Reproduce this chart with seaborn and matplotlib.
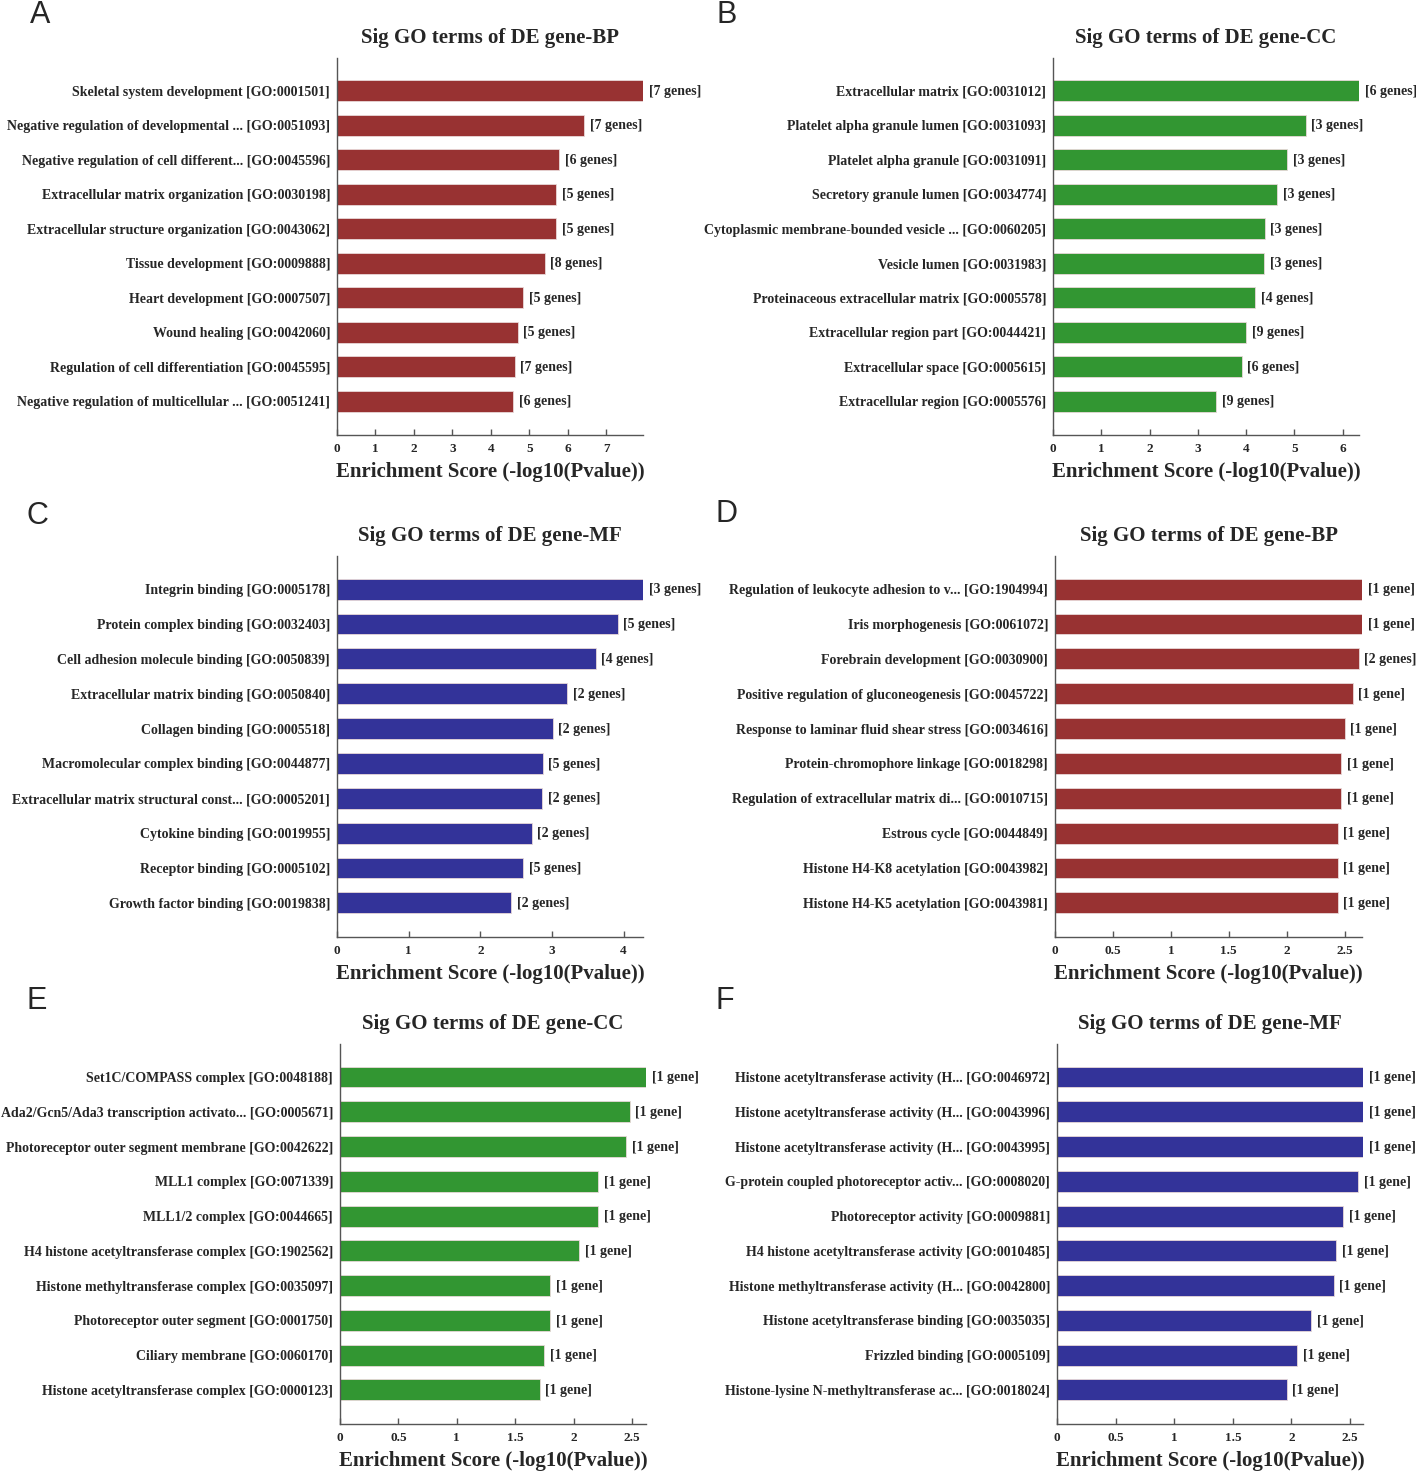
import matplotlib
matplotlib.use('Agg')
import matplotlib.pyplot as plt
import seaborn as sns

# ---- data ----
bp1_terms = ['Skeletal system development [GO:0001501]',
             'Negative regulation of developmental ... [GO:0051093]',
             'Negative regulation of cell different... [GO:0045596]',
             'Extracellular matrix organization [GO:0030198]',
             'Extracellular structure organization [GO:0043062]',
             'Tissue development [GO:0009888]',
             'Heart development [GO:0007507]',
             'Wound healing [GO:0042060]',
             'Regulation of cell differentiation [GO:0045595]',
             'Negative regulation of multicellular ... [GO:0051241]']
bp1_scores = [7.95, 6.43, 5.78, 5.69, 5.69, 5.40, 4.84, 4.70, 4.62, 4.58]
bp1_genes = [7, 7, 6, 5, 5, 8, 5, 5, 7, 6]

cc1_terms = ['Extracellular matrix [GO:0031012]',
             'Platelet alpha granule lumen [GO:0031093]',
             'Platelet alpha granule [GO:0031091]',
             'Secretory granule lumen [GO:0034774]',
             'Cytoplasmic membrane-bounded vesicle ... [GO:0060205]',
             'Vesicle lumen [GO:0031983]',
             'Proteinaceous extracellular matrix [GO:0005578]',
             'Extracellular region part [GO:0044421]',
             'Extracellular space [GO:0005615]',
             'Extracellular region [GO:0005576]']
cc1_scores = [6.34, 5.24, 4.85, 4.65, 4.39, 4.38, 4.19, 4.00, 3.91, 3.38]
cc1_genes = [6, 3, 3, 3, 3, 3, 4, 9, 6, 9]

mf1_terms = ['Integrin binding [GO:0005178]',
             'Protein complex binding [GO:0032403]',
             'Cell adhesion molecule binding [GO:0050839]',
             'Extracellular matrix binding [GO:0050840]',
             'Collagen binding [GO:0005518]',
             'Macromolecular complex binding [GO:0044877]',
             'Extracellular matrix structural const... [GO:0005201]',
             'Cytokine binding [GO:0019955]',
             'Receptor binding [GO:0005102]',
             'Growth factor binding [GO:0019838]']
mf1_scores = [4.27, 3.92, 3.61, 3.21, 3.01, 2.87, 2.86, 2.72, 2.60, 2.43]
mf1_genes = [3, 5, 4, 2, 2, 5, 2, 2, 5, 2]

bp2_terms = ['Regulation of leukocyte adhesion to v... [GO:1904994]',
             'Iris morphogenesis [GO:0061072]',
             'Forebrain development [GO:0030900]',
             'Positive regulation of gluconeogenesis [GO:0045722]',
             'Response to laminar fluid shear stress [GO:0034616]',
             'Protein-chromophore linkage [GO:0018298]',
             'Regulation of extracellular matrix di... [GO:0010715]',
             'Estrous cycle [GO:0044849]',
             'Histone H4-K8 acetylation [GO:0043982]',
             'Histone H4-K5 acetylation [GO:0043981]']
bp2_scores = [2.65, 2.65, 2.62, 2.57, 2.50, 2.47, 2.47, 2.44, 2.44, 2.44]
bp2_genes = [1, 1, 2, 1, 1, 1, 1, 1, 1, 1]

cc2_terms = ['Set1C/COMPASS complex [GO:0048188]',
             'Ada2/Gcn5/Ada3 transcription activato... [GO:0005671]',
             'Photoreceptor outer segment membrane [GO:0042622]',
             'MLL1 complex [GO:0071339]',
             'MLL1/2 complex [GO:0044665]',
             'H4 histone acetyltransferase complex [GO:1902562]',
             'Histone methyltransferase complex [GO:0035097]',
             'Photoreceptor outer segment [GO:0001750]',
             'Ciliary membrane [GO:0060170]',
             'Histone acetyltransferase complex [GO:0000123]']
cc2_scores = [2.62, 2.48, 2.45, 2.21, 2.21, 2.05, 1.80, 1.80, 1.75, 1.71]
cc2_genes = [1, 1, 1, 1, 1, 1, 1, 1, 1, 1]

mf2_terms = ['Histone acetyltransferase activity (H... [GO:0046972]',
             'Histone acetyltransferase activity (H... [GO:0043996]',
             'Histone acetyltransferase activity (H... [GO:0043995]',
             'G-protein coupled photoreceptor activ... [GO:0008020]',
             'Photoreceptor activity [GO:0009881]',
             'H4 histone acetyltransferase activity [GO:0010485]',
             'Histone methyltransferase activity (H... [GO:0042800]',
             'Histone acetyltransferase binding [GO:0035035]',
             'Frizzled binding [GO:0005109]',
             'Histone-lysine N-methyltransferase ac... [GO:0018024]']
mf2_scores = [2.61, 2.61, 2.61, 2.57, 2.44, 2.38, 2.36, 2.17, 2.05, 1.96]
mf2_genes = [1, 1, 1, 1, 1, 1, 1, 1, 1, 1]

RED, GREEN, BLUE = '#983232', '#329632', '#333399'

# panel letter, title, terms, scores, genes, colour, tick step, rect in px (left, top, right, bottom)
panels = [
    ('A', 'Sig GO terms of DE gene-BP', bp1_terms, bp1_scores, bp1_genes, RED, 1, (337, 58, 643, 435)),
    ('B', 'Sig GO terms of DE gene-CC', cc1_terms, cc1_scores, cc1_genes, GREEN, 1, (1053, 58, 1359, 435)),
    ('C', 'Sig GO terms of DE gene-MF', mf1_terms, mf1_scores, mf1_genes, BLUE, 1, (337, 556, 643, 937)),
    ('D', 'Sig GO terms of DE gene-BP', bp2_terms, bp2_scores, bp2_genes, RED, 0.5, (1055, 556, 1362, 937)),
    ('E', 'Sig GO terms of DE gene-CC', cc2_terms, cc2_scores, cc2_genes, GREEN, 0.5, (340, 1044, 646, 1424)),
    ('F', 'Sig GO terms of DE gene-MF', mf2_terms, mf2_scores, mf2_genes, BLUE, 0.5, (1057, 1044, 1363, 1424)),
]
letter_pos = {'A': (40, 15), 'B': (727, 15), 'C': (37, 516), 'D': (727, 514),
              'E': (37, 1001), 'F': (725, 1001)}

sns.set_style('white')
plt.rcParams['font.family'] = ['Liberation Serif', 'DejaVu Serif']
plt.rcParams['font.weight'] = 'bold'

W, H = 1416, 1472
fig = plt.figure(figsize=(W / 100, H / 100), dpi=100)

for letter, title, terms, scores, genes, col, step, (l, t, r, b) in panels:
    ax = fig.add_axes([l / W, 1 - b / H, (r - l) / W, (b - t) / H])
    sns.barplot(x=scores, y=terms, orient='h', color=col, saturation=1,
                width=0.6, edgecolor='#e8d8d8', linewidth=0.6, ax=ax)
    for i, (s, g) in enumerate(zip(scores, genes)):
        lab = '[%d gene]' % g if g == 1 else '[%d genes]' % g
        ax.annotate(lab, (s, i), xytext=(4, -0.5), textcoords='offset points',
                    va='center', ha='left', fontsize=10, fontweight='bold')
    xmax = max(scores)
    ax.set_xlim(0, xmax)
    ax.set_ylim(9.98, -0.95)
    ticks = []
    v = 0.0
    while v <= xmax + 1e-9:
        ticks.append(v)
        v += step
    ax.set_xticks(ticks)
    ax.set_xticklabels(['%g' % tk for tk in ticks])
    ax.tick_params(axis='x', direction='in', length=4, width=1, color='#555555',
                   labelsize=9.5, pad=6, bottom=True)
    ax.tick_params(axis='y', length=0, labelsize=10, pad=5)
    for tl in ax.get_xticklabels() + ax.get_yticklabels():
        tl.set_fontweight('bold')
    for sp in ['top', 'right']:
        ax.spines[sp].set_visible(False)
    for sp in ['left', 'bottom']:
        ax.spines[sp].set_color('#555555')
        ax.spines[sp].set_linewidth(1)
    ax.set_ylabel('')
    ax.set_xlabel('Enrichment Score (-log10(Pvalue))', fontsize=15, fontweight='bold', labelpad=5)
    ax.set_title(title, fontsize=15, fontweight='bold', pad=11)
    lx, ly = letter_pos[letter]
    fig.text(lx / W, 1 - ly / H, letter, fontsize=22, fontweight='normal',
             family=['Liberation Sans', 'DejaVu Sans'], ha='center', va='center')

fig.savefig('out.png', dpi=100, facecolor='white')
